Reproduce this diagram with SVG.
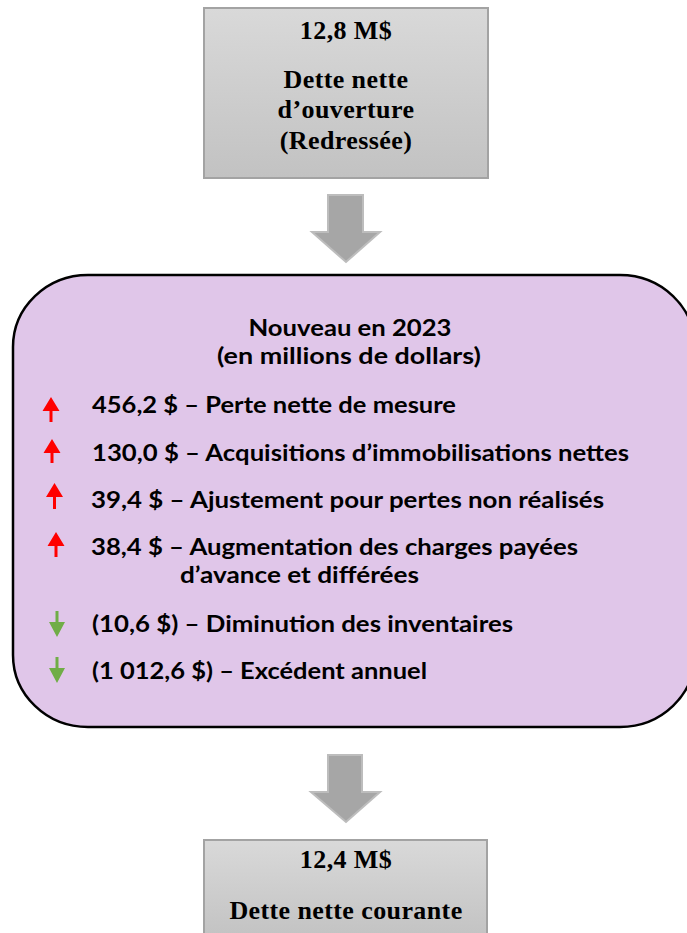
<svg xmlns="http://www.w3.org/2000/svg" width="687" height="933" viewBox="0 0 687 933">
<defs>
<linearGradient id="gray" x1="0" y1="0" x2="0" y2="1">
<stop offset="0" stop-color="#d9d9d9"/>
<stop offset="1" stop-color="#c2c2c2"/>
</linearGradient>
<style>
.box{fill:url(#gray);stroke:#a3a3a3;stroke-width:2}
.serif{font-family:"Liberation Serif","Times New Roman",serif;font-weight:bold;font-size:26px;letter-spacing:0.4px;fill:#000;text-anchor:middle}
.cal{font-family:Lato,"Liberation Sans",sans-serif;font-weight:bold;font-size:22px;fill:#000}
.mid{text-anchor:middle}
.flow{fill:#a6a6a6;stroke:#bdbdbd;stroke-width:2}
.up{fill:#ff0000}
.down{fill:#70ad47}
</style>
</defs>
<rect width="687" height="933" fill="#ffffff"/>

<g id="opening">
<rect class="box" x="204" y="8" width="284" height="170"/>
<text class="serif" x="346" y="39">12,8 M$</text>
<text class="serif" x="346" y="88">Dette nette</text>
<text class="serif" x="346" y="118">d’ouverture</text>
<text class="serif" x="346" y="149">(Redressée)</text>
</g>

<g id="connectors">
<polygon class="flow" points="328,195 363,195 363,232 380,232 346,262 312,232 328,232"/>
<polygon class="flow" points="328,755 362,755 362,792 380,792 346,822 311,792 328,792"/>
</g>

<g id="changes">
<rect x="13" y="275" width="682" height="452" rx="75" ry="72" fill="#e0c6e9" stroke="#000" stroke-width="2.5"/>
<text class="cal mid" x="350" y="336" textLength="203" lengthAdjust="spacingAndGlyphs">Nouveau en 2023</text>
<text class="cal mid" x="349" y="364" textLength="264" lengthAdjust="spacingAndGlyphs">(en millions de dollars)</text>

<polygon class="up" points="51,397 59.5,411 52.5,411 52.5,422 49.5,422 49.5,411 42.5,411"/>
<text class="cal" x="92" y="413" textLength="364" lengthAdjust="spacingAndGlyphs">456,2 $ – Perte nette de mesure</text>

<polygon class="up" points="52,439 60.5,453 53.5,453 53.5,463 50.5,463 50.5,453 43.5,453"/>
<text class="cal" x="92" y="461" textLength="537" lengthAdjust="spacingAndGlyphs">130,0 $ – Acquisitions d’immobilisations nettes</text>

<polygon class="up" points="54.5,483 63,497 56,497 56,509 53,509 53,497 46,497"/>
<text class="cal" x="91" y="508" textLength="513" lengthAdjust="spacingAndGlyphs">39,4 $ – Ajustement pour pertes non réalisés</text>

<polygon class="up" points="56,532 64.5,546 57.5,546 57.5,557 54.5,557 54.5,546 47.5,546"/>
<text class="cal" x="91" y="555" textLength="487" lengthAdjust="spacingAndGlyphs">38,4 $ – Augmentation des charges payées</text>
<text class="cal" x="180" y="583" textLength="239" lengthAdjust="spacingAndGlyphs">d’avance et différées</text>

<polygon class="down" points="57,637 65,622 58.5,622 58.5,611 55.5,611 55.5,622 49,622"/>
<text class="cal" x="92" y="632" textLength="421" lengthAdjust="spacingAndGlyphs">(10,6 $) – Diminution des inventaires</text>

<polygon class="down" points="57,683 65,668 58.5,668 58.5,657 55.5,657 55.5,668 49,668"/>
<text class="cal" x="92" y="679" textLength="335" lengthAdjust="spacingAndGlyphs">(1 012,6 $) – Excédent annuel</text>
</g>

<g id="closing">
<rect class="box" x="204" y="840" width="283" height="100"/>
<text class="serif" x="346" y="868">12,4 M$</text>
<text class="serif" x="346" y="919">Dette nette courante</text>
</g>
</svg>
